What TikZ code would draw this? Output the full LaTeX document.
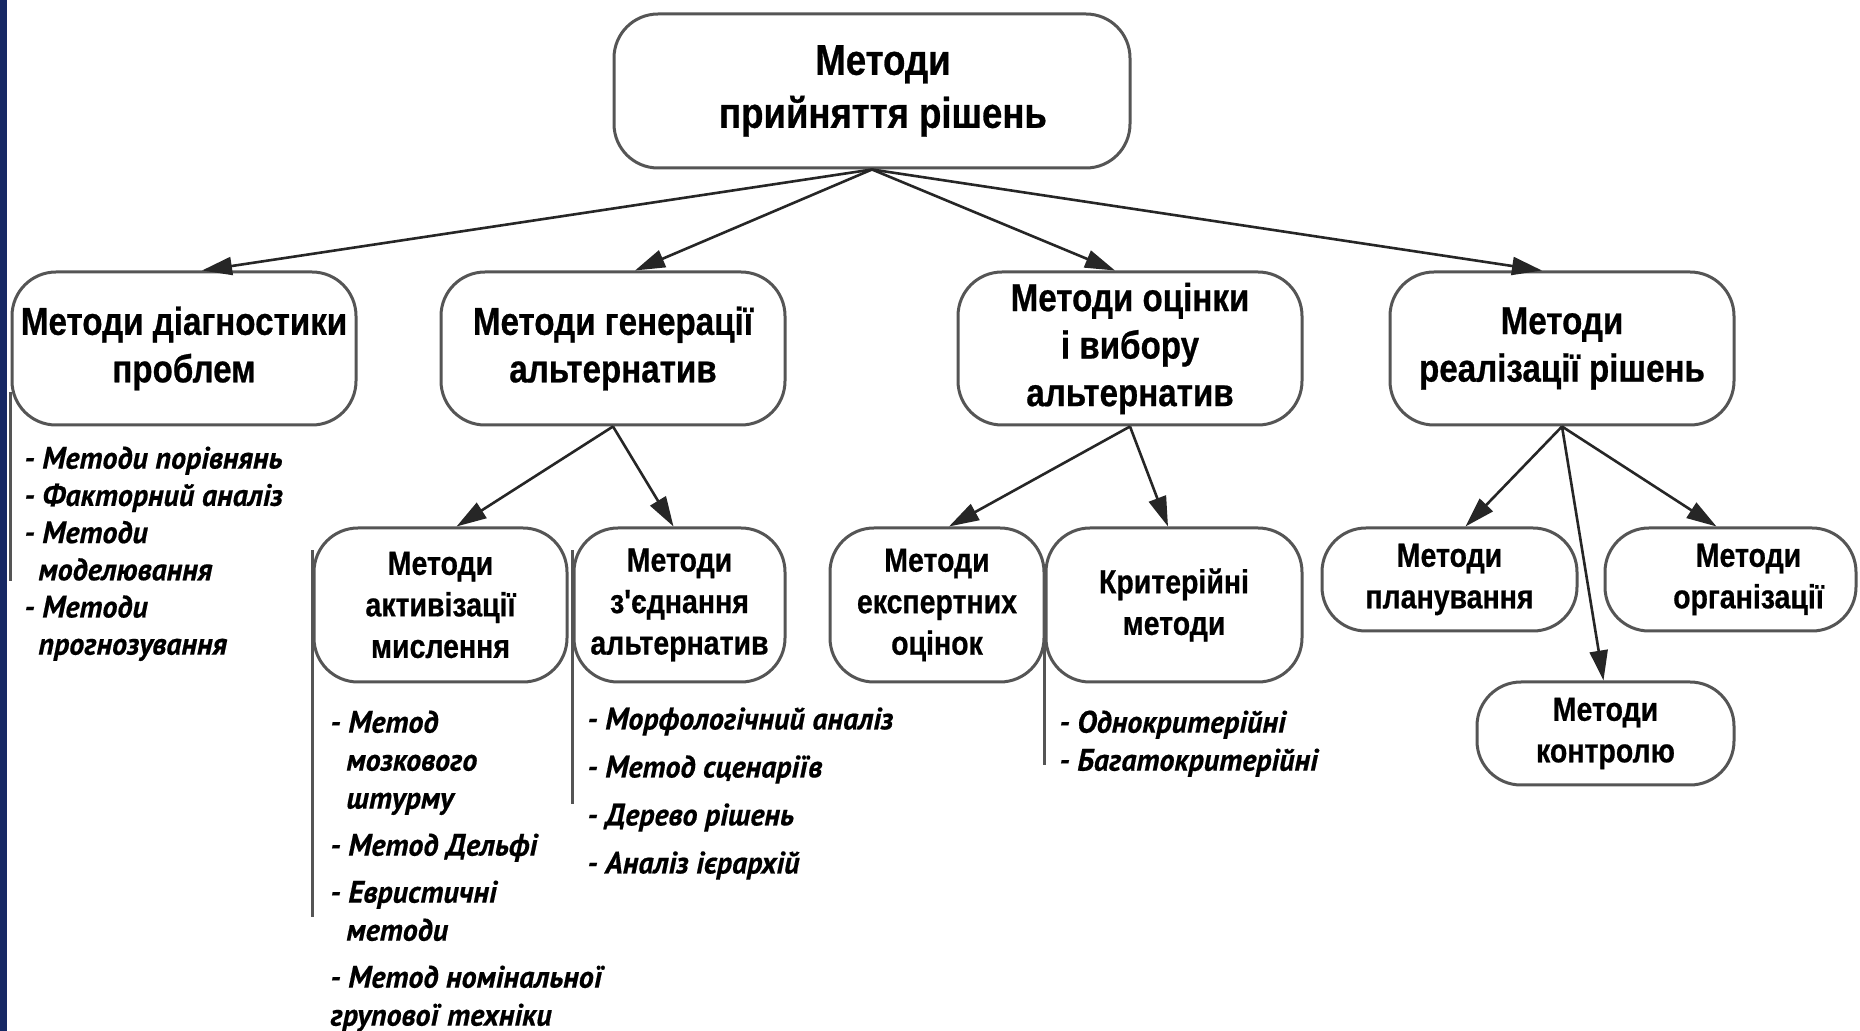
\documentclass[tikz,border=0pt]{standalone}
\usepackage{fontspec}
\usetikzlibrary{arrows.meta,calc}
\newfontfamily\boxfont{Liberation Sans}[FakeStretch=0.85, BoldFeatures={FakeBold=0.6}]
\newfontfamily\listfont{PT Sans}[FakeStretch=0.97, BoldItalicFeatures={FakeBold=0.5}]
\definecolor{edge}{RGB}{85,85,85}
\definecolor{navy}{RGB}{22,40,100}
\begin{document}
\begin{tikzpicture}[x=0.5pt,y=-0.5pt,
  box/.style={draw=edge, line width=1.5pt, rounded corners=22pt, fill=white, inner sep=0pt, align=center, text=black},
  lvA/.style={box, font=\boxfont\bfseries\fontsize{21.5pt}{26.5pt}\selectfont},
  lvB/.style={box, minimum width=172pt, minimum height=76.5pt, font=\boxfont\bfseries\fontsize{19.5pt}{23.75pt}\selectfont},
  lvC/.style={box, minimum height=77pt, font=\boxfont\bfseries\fontsize{16.75pt}{20.75pt}\selectfont},
  lvD/.style={box, minimum height=51.5pt, font=\boxfont\bfseries\fontsize{16.75pt}{20.75pt}\selectfont},
  list/.style={anchor=north west, inner sep=0pt, align=left, text=black},
  arr/.style={draw=black!85, line width=1.3pt, -{Triangle[length=15pt,width=9pt]}},
  bar/.style={draw=edge, line width=1.2pt}
]
\useasboundingbox (0,0) rectangle (1860,1031);
\fill[white] (0,0) rectangle (1860,1031);
\fill[navy] (0,0) rectangle (7,1031);

\node[lvA, minimum width=258pt, minimum height=77pt] (top) at (872,91) {\hspace*{11pt}Методи\\\hspace*{11pt}прийняття рішень};
\node[lvB] (diag) at (184,348.5) {Методи діагностики\\проблем};
\node[lvB] (gen) at (613,348.5) {Методи генерації\\альтернатив};
\node[lvB] (eval) at (1130,348.5) {Методи оцінки\\і вибору\\альтернатив};
\node[lvB] (impl) at (1562,348.5) {Методи\\реалізації рішень};
\node[lvC, minimum width=126.5pt] (activ) at (440.5,605) {Методи\\активізації\\мислення};
\node[lvC, minimum width=105.5pt] (join) at (679.5,605) {Методи\\з'єднання\\альтернатив};
\node[lvC, minimum width=107pt] (expert) at (937,605) {Методи\\експертних\\оцінок};
\node[lvC, minimum width=128pt] (crit) at (1174,605) {Критерійні\\методи};
\node[lvD, minimum width=127.5pt] (plan) at (1449.5,579.5) {Методи\\планування};
\node[lvD, minimum width=125.5pt] (org) at (1730.5,579.5) {\hspace*{18pt}Методи\\\hspace*{18pt}організації};
\node[lvD, minimum width=128.5pt] (ctrl) at (1605.5,733.5) {Методи\\контролю};

\draw[arr] (top.south) -- ([xshift=9pt]diag.north);
\draw[arr] (top.south) -- ([xshift=11pt]gen.north);
\draw[arr] (top.south) -- ([xshift=-7.5pt]eval.north);
\draw[arr] (top.south) -- ([xshift=-10pt]impl.north);
\draw[arr] (gen.south) -- ([xshift=8pt]activ.north);
\draw[arr] (gen.south) -- ([xshift=-3pt]join.north);
\draw[arr] (eval.south) -- ([xshift=6pt]expert.north);
\draw[arr] (eval.south) -- ([xshift=-3pt]crit.north);
\draw[arr] (impl.south) -- ([xshift=8pt]plan.north);
\draw[arr] (impl.south) -- ([xshift=-7pt]org.north);
\draw[arr] (impl.south) -- ([xshift=-1pt]ctrl.north);

\draw[bar] ([yshift=17pt]diag.south west) -- ++(0,189);
\draw[bar] ([yshift=-12pt]activ.north west) -- ++(0,367);
\draw[bar] ([yshift=-12pt]join.north west) -- ++(0,254);
\draw[bar] (crit.west) -- ++(0,160);

\node[list, font=\listfont\bfseries\itshape\fontsize{15.5pt}{18.6pt}\selectfont] (dl) at (24,446)
  {- Методи порівнянь\\- Факторний аналіз\\- Методи\\\hspace*{7pt}моделювання\\- Методи\\\hspace*{7pt}прогнозування};
\node[list, font=\listfont\bfseries\itshape\fontsize{15.5pt}{19pt}\selectfont] (al) at (330,710)
  {- Метод\\\hspace*{8pt}мозкового\\\hspace*{8pt}штурму\\[4.5pt]- Метод Дельфі\\[4.5pt]- Евристичні\\\hspace*{8pt}методи\\[4.5pt]- Метод номінальної\\групової техніки};
\node[list, font=\listfont\bfseries\itshape\fontsize{15.5pt}{24pt}\selectfont] (jl) at (587,707)
  {- Морфологічний аналіз\\- Метод сценаріїв\\- Дерево рішень\\- Аналіз ієрархій};
\node[list, font=\listfont\bfseries\itshape\fontsize{15.5pt}{19pt}\selectfont] (cl) at (1059,710)
  {- Однокритерійні\\- Багатокритерійні};
\end{tikzpicture}
\end{document}
